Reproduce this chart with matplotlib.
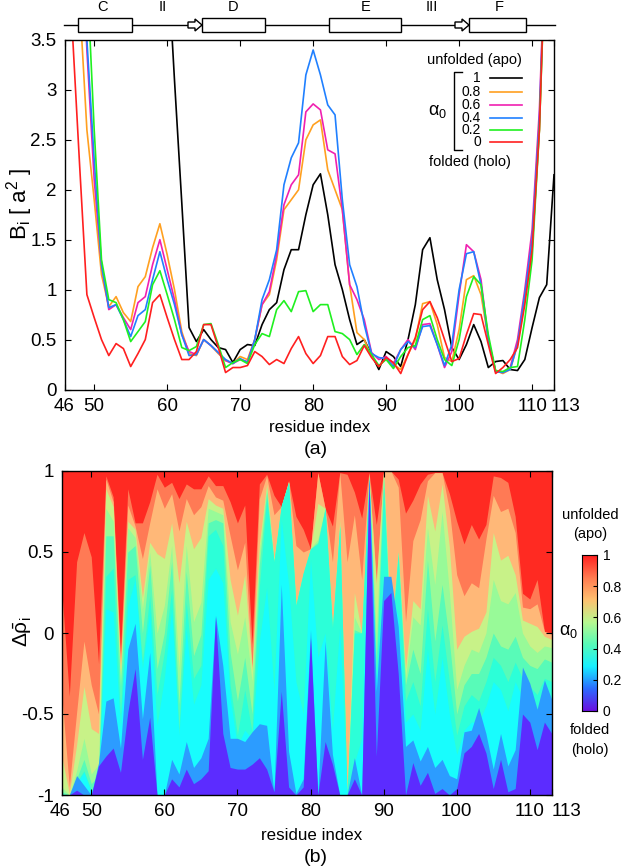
from matplotlib import pyplot as plt
from matplotlib.colors import LinearSegmentedColormap
from matplotlib.patches import Rectangle, Polygon
from matplotlib.transforms import ScaledTranslation
import numpy as np

plt.rcParams['font.family'] = ['Liberation Sans', 'DejaVu Sans']
plt.rcParams['mathtext.fontset'] = 'custom'
plt.rcParams['mathtext.rm'] = 'Liberation Sans'
plt.rcParams['mathtext.it'] = 'Liberation Sans'
plt.rcParams['mathtext.cal'] = 'Liberation Sans'

residues = np.arange(46, 114)

# top panel, B_i per residue (off scale values are rough guesses)
b_black = [9, 9, 9, 9, 9, 9, 9, 9, 9, 9, 9, 9, 7, 5.5, 4.4, 3.1, 1.87, .62, .48, .6,
           .5, .42, .4, .27, .4, .45, .44, .65, .8, .87, 1.2, 1.4, 1.4, 1.75, 2.05, 2.16, 1.75, 1.25, 1.0, .7,
           .45, .5, .35, .2, .38, .33, .23, .5, .85, 1.4, 1.52, 1.1, .8, .42, .3, .45, .65, .48, .22, .28,
           .29, .2, .19, .3, .62, .92, 1.05, 2.15]
b_orange = [9, 6, 3.9, 2.6, 1.9, 1.15, .83, .93, .77, .68, 1.03, 1.13, 1.42, 1.66, 1.35, 1.0, .58, .36, .34, .5,
            .44, .36, .29, .26, .33, .3, .5, .85, .95, 1.3, 1.8, 1.9, 2.0, 2.5, 2.65, 2.7, 2.2, 2.0, 1.8, 1.05,
            .57, .5, .33, .23, .32, .25, .2, .35, .5, .86, .88, .65, .32, .28, .6, 1.1, 1.14, .95, .5, .19,
            .16, .2, .45, .9, 1.4, 2.6, 4.8, 7]
b_magenta = [9, 6, 5, 3.4, 2.1, 1.25, .8, .85, .72, .6, .87, .93, 1.25, 1.5, 1.2, .9, .55, .38, .35, .5,
             .44, .37, .29, .26, .3, .28, .5, .85, .98, 1.35, 1.85, 2.05, 2.15, 2.78, 2.86, 2.8, 2.4, 2.36, 1.8, 1.05,
             .9, .7, .37, .3, .33, .26, .4, .5, .4, .65, .66, .45, .22, .38, .95, 1.45, 1.38, 1.1, .5, .18,
             .17, .22, .5, 1.0, 1.6, 2.8, 4.9, 7]
b_blue = [9, 6, 5, 3.5, 2.3, 1.25, .82, .85, .7, .53, .74, .8, 1.1, 1.38, 1.1, .85, .55, .34, .35, .5,
          .44, .37, .3, .26, .31, .27, .5, .9, 1.1, 1.4, 2.05, 2.32, 2.47, 3.15, 3.4, 3.15, 2.85, 2.75, 1.9, 1.25,
          1.03, .65, .36, .32, .31, .23, .4, .48, .42, .63, .64, .45, .24, .45, 1.0, 1.36, 1.38, 1.05, .5, .18,
          .17, .2, .45, .95, 1.5, 2.7, 4.9, 7]
b_green = [9, 6, 5, 4.2, 2.6, 1.3, .9, .87, .7, .48, .58, .68, 1.05, 1.19, .95, .7, .42, .39, .43, .65,
           .66, .45, .22, .27, .3, .26, .45, .56, .53, .8, .89, .78, .98, .99, .78, .85, .85, .58, .56, .5,
           .35, .45, .35, .24, .3, .21, .33, .42, .44, .7, .74, .5, .3, .24, .5, .93, 1.13, 1.05, .55, .19,
           .18, .22, .23, .7, 1.3, 2.6, 4.8, 7]
b_red = [9, 3.6, 2.25, .95, .72, .5, .34, .46, .41, .23, .36, .5, .87, .95, .72, .5, .3, .3, .38, .65,
         .65, .42, .17, .22, .22, .24, .38, .33, .25, .3, .26, .41, .53, .36, .26, .34, .53, .53, .33, .25,
         .29, .44, .32, .23, .32, .27, .16, .35, .52, .8, .88, .72, .5, .28, .31, .55, .76, .75, .45, .16,
         .22, .3, .42, .85, 1.4, 2.6, 4.9, 7]
alpha_labels = ['1', '0.8', '0.6', '0.4', '0.2', '0']

# bottom panel, upper edge of each colour band per residue
edge_salmon = [.25, -.39, .44, .62, .47, -.19, .97, .84, -.13, .89,
               .68, .68, .81, .98, .9, .93, .83, .92, .89, .89,
               .97, .91, .91, .81, .68, .79, -.07, .92, .98, .85,
               .78, .94, .72, .64, .52, .99, .77, .66, .99, .98,
               .87, .71, .99, .67, 1, 1, .95, .74, .82, .92,
               .98, .99, .99, .86, .69, .55, .67, .58, .67, .97,
               .96, .93, .72, .245, .21, .33, .01, 0]
edge_orange = [-.4, -.95, -.49, -.05, -.32, -.5, .95, .81, -.19, .79,
               .66, .46, .68, .89, .77, .86, .63, .83, .73, .78,
               .91, .84, .82, .6, .39, .56, -.21, .83, .97, .73,
               .78, .94, .54, .5, .52, .99, .77, .44, .99, .44,
               .73, .33, .99, .32, 1, 1, .9, .07, .57, .7,
               .94, .99, .99, .76, .36, .23, .31, .28, .58, .85,
               .75, .77, .62, .16, .15, .18, .01, -.01]
edge_yellow = [-.77, -.99, -.69, -.33, -.59, -.62, .89, .78, -.24, .69,
               .64, .22, .56, .49, .46, .68, .31, .69, .52, .59,
               .83, .79, .77, .33, .11, .36, -.23, .55, .92, .46,
               .78, .93, .18, .37, .52, .8, .77, .03, .7, -1,
               .25, 0, .98, .3, 1, 0, .5, -.22, .2, .15,
               .85, .63, .92, .53, -.1, -.02, .01, .03, .13, .62,
               .45, .48, .36, .08, .06, .04, -.02, -.04]
edge_lgreen = [-.95, -1, -.85, -.65, -.87, -.81, .77, .69, -.3, .65,
               .59, .15, .5, 0, .17, .54, -.22, .54, .07, .19,
               .77, .75, .73, .07, -.13, .1, -.3, .5, .9, .45,
               .78, .93, .17, .37, .52, .58, .77, .03, .67, -1,
               .1, 0, .97, 0, 1, -.02, .5, -.28, .1, .05,
               .65, .3, .75, .25, -.35, -.2, -.1, -.12, 0, .33,
               .2, .18, .25, 0, -.08, -.12, -.08, -.09]
edge_mint = [-.98, -1, -.9, -.78, -.93, -.88, .6, .6, -.33, .5,
             .54, 0, .42, -.22, 0, .44, -.44, .38, -.14, -.01,
             .68, .7, .68, -.12, -.42, -.15, -.5, .42, .87, .44,
             .78, .93, .17, .37, .52, .56, .77, .03, .66, -1,
             .02, 0, .96, -.15, .95, -.05, .5, -.32, -.1, -.25,
             .45, -.05, .3, -.05, -.5, -.32, -.25, -.25, -.15, 0,
             -.08, -.1, -.02, -.15, -.2, -.22, -.16, -.18]
edge_turq = [-1, -1, -.92, -.85, -.97, -.9, .35, .4, -.5, .33,
             .36, -.18, .23, -.38, -.12, .27, -.59, .19, -.28, -.2,
             .6, .64, .54, -.32, -.63, -.35, -.61, .28, .83, .44,
             .79, .93, .17, .37, .52, .55, .77, .03, .66, -1,
             0, 0, .95, -.28, .9, -.1, .48, -.42, -.3, -.45,
             .15, -.3, .05, -.3, -.63, -.45, -.38, -.42, -.3, -.15,
             -.2, -.3, -.18, -.28, -.33, -.38, -.28, -.3]
edge_cyan = [-1, -1, -.93, -.86, -.98, -.92, .15, .13, -.59, .17,
             .33, -.22, .13, -.57, -.28, .15, -.63, .03, -.44, -.32,
             .33, .4, .31, -.4, -.7, -.6, -.65, -.05, .28, -.35,
             .7, .3, -.3, -.5, .45, -.15, 0, -.6, .05, -1,
             -.8, -.65, .95, -.3, .3, .25, .1, -.55, -.5, -.6,
             -.1, -.5, -.15, -.5, -.75, -.6, -.55, -.55, -.45, -.3,
             -.35, -.48, -.3, -.4, -.48, -.55, -.45, -.5]
edge_blue = [-1, -1, -.88, -.94, -1, -.8, -.42, -.4, -.71, -.1,
             .06, -.53, -.12, -1, -1, -.78, -.87, -.67, -.83, -.77,
             -.65, .11, -.2, -.65, -.65, -.67, -.61, -.56, -.57, -.99,
             .3, -.73, -.99, -.9, .02, -1, -.05, -.75, -1, -1,
             -.77, -1, .96, -.36, .35, .35, .04, -.7, -.66, -.79,
             -.7, -.83, -.78, -.88, -.9, -.61, -.6, -.46, -.62, -.84,
             -.62, -.82, -.72, -.21, -.31, -.47, -.29, -.41]
edge_violet = [-1, -1, -.97, -1, -1, -.82, -.76, -.71, -.86, -.49,
               -.22, -.78, -.52, -1, -1, -.9, -.95, -.84, -.93, -.9,
               -.85, .1, -.62, -.83, -.84, -.84, -.81, -.77, -.84, -.98,
               -.36, -.95, -1, -.95, -.03, -1, -.67, -.81, -1, -1,
               -.9, -1, .95, -.76, .2, .25, -.25, -1, -.8, -.94,
               -.86, -.99, -.96, -1, -.96, -.74, -.7, -.62, -.74, -.96,
               -.78, -.98, -.96, -.5, -.55, -.72, -.55, -.62]

line_colors = ['#000000', '#ffa020', '#f020b0', '#2080ff', '#20f020', '#ff2020']
band_colors = ['#ff7a55', '#ffb878', '#c8f288', '#98fa98', '#58fbb8',
               '#2cffd8', '#18fdfd', '#2c9cff', '#5c2cff']
band_edges = [edge_salmon, edge_orange, edge_yellow, edge_lgreen, edge_mint,
              edge_turq, edge_cyan, edge_blue, edge_violet]
x_ticks = [46, 50, 60, 70, 80, 90, 100, 110, 113]

W, H = 623, 868
fig = plt.figure(figsize=(W/100, H/100), dpi=100)

def px_axes(left, top, right, bottom):
    return fig.add_axes([left/W, 1 - bottom/H, (right-left)/W, (bottom-top)/H])

def style_x(ax, first_dx, last_dx):
    ax.set_xlim(46, 113)
    ax.set_xticks(x_ticks)
    ax.tick_params(direction='in', top=True, right=True, length=4, width=.8, labelsize=13.5, pad=6)
    labels = ax.get_xticklabels()
    # end labels sit off their ticks, as 110 and 113 would run together
    for lbl, dx in [(labels[0], first_dx), (labels[-1], last_dx)]:
        lbl.set_transform(lbl.get_transform() + ScaledTranslation(dx/100, 0, fig.dpi_scale_trans))
    for s in ax.spines.values():
        s.set_linewidth(1.0)

# top panel
ax1 = px_axes(65, 40, 554, 389.5)
for vals, c in zip([b_black, b_orange, b_magenta, b_blue, b_green, b_red], line_colors):
    ax1.plot(residues, vals, color=c, lw=1.2)
ax1.set_ylim(0, 3.5)
ax1.set_yticks([0, .5, 1, 1.5, 2, 2.5, 3, 3.5])
ax1.set_yticklabels(['0', '0.5', '1', '1.5', '2', '2.5', '3', '3.5'])
style_x(ax1, -1, 12)

# bottom panel
ax2 = px_axes(62, 471, 551.7, 795)
ax2.set_facecolor('#ff2a22')
for edge, c in zip(band_edges, band_colors):
    ax2.fill_between(residues, -1, edge, color=c, lw=0)
ax2.set_ylim(-1, 1)
ax2.set_yticks([-1, -.5, 0, .5, 1])
ax2.set_yticklabels(['-1', '-0.5', '0', '0.5', '1'])
style_x(ax2, -2, 15)

# colorbar
cmap = LinearSegmentedColormap.from_list('alpha0', ['#6a10e0', '#2c6cff', '#18f0ff', '#58fbb8',
                                                    '#b8f890', '#ffc070', '#ff7a50', '#ff2020'])
cax = px_axes(582, 555, 597, 711)
cax.imshow(np.linspace(1, 0, 256)[:, None], aspect='auto', cmap=cmap, extent=[0, 1, 0, 1])
cax.set_xticks([])
cax.yaxis.tick_right()
cax.set_yticks([0, .2, .4, .6, .8, 1])
cax.set_yticklabels(['0', '0.2', '0.4', '0.6', '0.8', '1'])
cax.tick_params(direction='in', length=3, width=.8, labelsize=10, pad=4)

# overlay in pixel coordinates for the labels and the structure strip
ov = fig.add_axes([0, 0, 1, 1], facecolor='none')
ov.set_xlim(0, W)
ov.set_ylim(H, 0)
ov.axis('off')

ov.plot([64, 555], [25, 25], color='k', lw=1)
for x0, x1 in [(78, 132), (202, 265), (329, 401), (469, 526)]:
    ov.add_patch(Rectangle((x0, 18), x1-x0, 14, fc='white', ec='k', lw=1, zorder=3))
for x0 in [188, 455]:
    ov.add_patch(Polygon([(x0, 22), (x0+7, 22), (x0+7, 19), (x0+14, 25), (x0+7, 31), (x0+7, 28), (x0, 28)],
                         fc='white', ec='k', lw=1, zorder=3))
for x, s in [(103, 'C'), (163, 'II'), (233, 'D'), (366, 'E'), (432, 'III'), (499, 'F')]:
    ov.text(x, 7, s, ha='center', va='center', fontsize=10.5)

ov.text(20, 204, r'B$_{\mathregular{i}}$ [ a$^{\mathregular{2}}$ ]', rotation=90, ha='center', va='center', fontsize=16)
ov.text(320, 427, 'residue index', ha='center', va='center', fontsize=12.2)
ov.text(316, 450, '(a)', ha='center', va='center', fontsize=14)
ov.text(312, 835, 'residue index', ha='center', va='center', fontsize=12.2)
ov.text(315.5, 858, '(b)', ha='center', va='center', fontsize=14)
ov.text(23, 632, r'$\Delta\bar{\rho}_{\mathregular{i}}$', rotation=90, ha='center', va='center', fontsize=15)

# legend
ov.text(474, 60, 'unfolded (apo)', ha='center', va='center', fontsize=10.5)
ov.text(470, 162, 'folded (holo)', ha='center', va='center', fontsize=10.5)
ov.text(437, 111, r'$\alpha_{\mathregular{0}}$', ha='center', va='center', fontsize=13)
ov.plot([462, 454, 454, 462], [72, 72, 150, 150], color='k', lw=1)
for y, s, c in zip([78, 92, 105, 118, 130, 142], alpha_labels, line_colors):
    ov.text(481, y, s, ha='right', va='center', fontsize=10)
    ov.plot([490, 522], [y, y], color=c, lw=1.2)

# colorbar labels
ov.text(590, 515, 'unfolded', ha='center', va='center', fontsize=10.5)
ov.text(590, 534, '(apo)', ha='center', va='center', fontsize=10.5)
ov.text(590, 730, 'folded', ha='center', va='center', fontsize=10.5)
ov.text(590, 750, '(holo)', ha='center', va='center', fontsize=10.5)
ov.text(568, 632, r'$\alpha_{\mathregular{0}}$', ha='center', va='center', fontsize=13)

fig.savefig('out.png', dpi=100)
